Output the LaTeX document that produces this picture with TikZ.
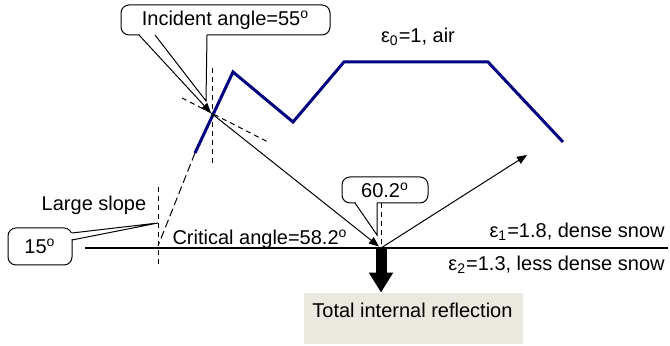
\documentclass[tikz,border=0pt]{standalone}
\usepackage{fontspec}
\setmainfont{Liberation Sans}
\usetikzlibrary{positioning,arrows.meta,calc}
\definecolor{navy}{RGB}{0,0,128}
\definecolor{tirfill}{RGB}{235,232,223}

\begin{document}
\begin{tikzpicture}[
    x=0.5pt, y=-0.5pt,
    font=\fontsize{10}{12}\selectfont,
    surface/.style={draw=navy, line width=1.5pt},
    ray/.style={line width=0.5pt, -{Triangle[length=5pt,width=4pt]}},
    guide/.style={line width=0.5pt, dash pattern=on 2.5pt off 2pt},
    slopeguide/.style={line width=0.5pt, dash pattern=on 4pt off 2pt},
    callbox/.style={draw, fill=white, rounded corners=4pt, line width=0.5pt, inner sep=0pt},
    lab/.style={inner sep=0pt}
]
\useasboundingbox (0,0) rectangle (670,346);

% ---- snow surface and interface ----
\draw[surface] (195,153) -- (233,72) -- (293,122) -- (344,62) -- (488,62) -- (563,142);
\draw[line width=0.6pt] (85,248) -- (668,248);

% ---- guide lines ----
\draw[guide] (212,68) -- (212,167);
\draw[guide] (182,98) -- (270,143);
\draw[slopeguide] (195,153) -- (158,246);
\draw[guide] (158,187) -- (158,265);
\draw[guide] (381,203) -- (381,248);

% ---- callouts ----
\node[callbox, minimum width=104.5pt, minimum height=15pt] (incbox) at (225.5,20) {Incident angle=55\textsuperscript{o}};
\node[callbox, minimum width=32pt, minimum height=18.5pt] (slopebox) at (40,246.5) {15\textsuperscript{o}};
\node[callbox, minimum width=43pt, minimum height=13pt] (anglebox) at (385,190) {60.2\textsuperscript{o}};
\coordinate (inctip) at (206,101);
\coordinate (slopetip) at (158,223);
\coordinate (angletip) at (377,235);

\fill[white] (140,33.5) rectangle (206.5,36.5);
\draw[line width=0.5pt] (155,35) -- (inctip) -- (207,35);
\fill[white] (70.5,233.5) rectangle (73.5,239.5);
\draw[line width=0.5pt] (72,233) -- (slopetip) -- (72,240);
\fill[white] (355.5,201.5) rectangle (376.5,204.5);
\draw[line width=0.5pt] (355,203) -- (angletip) -- (377,203);

% ---- rays ----
\coordinate (src) at (139,35);
\coordinate (hit) at (211,113);
\coordinate (bounce) at (381,248);
\coordinate (out) at (527,155);
\draw[ray] (src) -- (hit);
\draw[ray] (hit) -- ($(bounce)+(-2,-1.5)$);
\draw[ray] (bounce) -- (out);

% ---- total internal reflection ----
\node[fill=tirfill, minimum width=109.5pt, minimum height=25.5pt, inner sep=0pt] (tirbox) at (413.5,318.5) {};
\draw[line width=5.5pt, -{Triangle[length=10pt,width=11.5pt]}] (bounce) -- (tirbox.north -| bounce);
\node[lab, anchor=west] (tirtext) at (312,310) {Total internal reflection};

% ---- labels ----
\node[lab] (air) at (418,37) {ε\textsubscript{0}=1, air};
\node[lab] (slope) at (94,205) {Large slope};
\node[lab] (crit) at (260,239) {Critical angle=58.2\textsuperscript{o}};
\node[lab, anchor=east] (snowA) at (665,232) {ε\textsubscript{1}=1.8, dense snow};
\node[lab, anchor=east] (snowB) at (665,265) {ε\textsubscript{2}=1.3, less dense snow};

\end{tikzpicture}
\end{document}
